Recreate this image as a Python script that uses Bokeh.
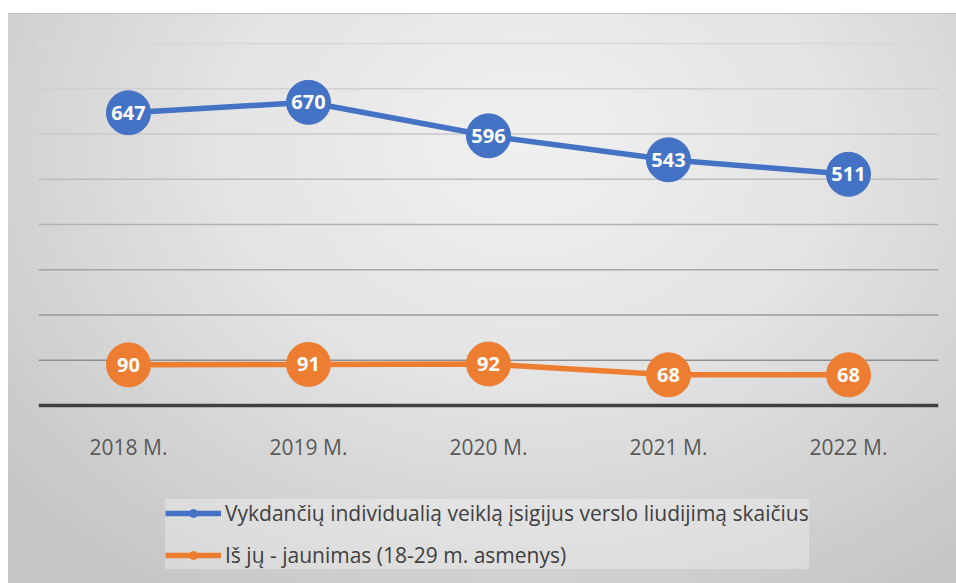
from bokeh.plotting import figure
from bokeh.models import ColumnDataSource, Range1d, FactorRange, Span, Legend, LegendItem
from bokeh.core.properties import value
from bokeh.embed import file_html
from bokeh.resources import INLINE

years = ["2018 M.", "2019 M.", "2020 M.", "2021 M.", "2022 M."]
total = [647, 670, 596, 543, 511]
youth = [90, 91, 92, 68, 68]
series_names = ["Vykdančių individualią veiklą įsigijus verslo liudijimą skaičius",
                "Iš jų - jaunimas (18-29 m. asmenys)"]
grid_values = [100, 200, 300, 400, 500, 600, 700, 800]

BLUE = "#4472C4"
ORANGE = "#ED7D31"
FONT = "Open Sans"

# frame spans the whole lower part so the legend (inside the frame) is not clipped
p = figure(width=956, height=583, x_range=FactorRange(*years, range_padding=0),
           y_range=Range1d(-393, 811), output_backend="svg", toolbar_location=None,
           min_border_left=38, min_border_right=18, min_border_top=38, min_border_bottom=0)
p.background_fill_alpha = 0
p.border_fill_alpha = 0
p.outline_line_color = None
p.styles = {
    "background": "linear-gradient(#ffffff,#ffffff) 0 0 / 100% 13px no-repeat, "
                  "linear-gradient(#ffffff,#ffffff) 0 0 / 8px 100% no-repeat, "
                  "linear-gradient(#c2c2c2,#c2c2c2) 8px 13px / 100% 1px no-repeat, "
                  "radial-gradient(ellipse 70% 90% at 55% 25%, #f0f0f0 0%, #e4e4e4 45%, #c6c6c6 100%)"
}
p.xgrid.visible = False
p.ygrid.visible = False
p.yaxis.visible = False

grid_colors = ["#8f8f8f", "#9a9a9a", "#a6a6a6", "#b2b2b2", "#bdbdbd", "#c8c8c8", "#d0d0d0", "#d8d8d8"]
for gv, gc in zip(grid_values, grid_colors):
    p.add_layout(Span(location=gv, dimension="width", line_color=gc, line_width=1.5,
                      level="underlay"))

xa = p.xaxis[0]
xa.fixed_location = 0
xa.axis_line_color = "#404040"
xa.axis_line_width = 3.5
xa.major_tick_line_color = None
xa.minor_tick_line_color = None
xa.major_label_text_font = FONT
xa.major_label_text_font_size = "21px"
xa.major_label_text_color = "#595959"
xa.major_label_standoff = 21

src1 = ColumnDataSource(dict(x=years, y=total, t=[str(v) for v in total]))
src2 = ColumnDataSource(dict(x=years, y=youth, t=[str(v) for v in youth]))

l1 = p.line("x", "y", source=src1, line_color=BLUE, line_width=5.5)
c1 = p.scatter("x", "y", source=src1, size=44, fill_color=BLUE, line_color=BLUE)
l2 = p.line("x", "y", source=src2, line_color=ORANGE, line_width=5.5)
c2 = p.scatter("x", "y", source=src2, size=44, fill_color=ORANGE, line_color=ORANGE)

for s in (src1, src2):
    p.text("x", "y", text="t", source=s, text_color="white", text_font=value(FONT),
           text_font_style="bold", text_font_size="20px", text_align="center",
           text_baseline="middle")

legend = Legend(items=[LegendItem(label=series_names[0], renderers=[l1, c1]),
                       LegendItem(label=series_names[1], renderers=[l2, c2])],
                location=(127, 14), orientation="vertical")
legend.label_text_font = FONT
legend.label_text_font_size = "21px"
legend.label_text_color = "#404040"
legend.glyph_width = 56
legend.glyph_height = 20
legend.label_height = 20
legend.label_standoff = 4
legend.spacing = 14
legend.padding = 13
legend.margin = 0
legend.border_line_color = None
legend.background_fill_color = "#ffffff"
legend.background_fill_alpha = 0.3
p.add_layout(legend, "center")

open("out.html", "w").write(file_html(p, INLINE))
